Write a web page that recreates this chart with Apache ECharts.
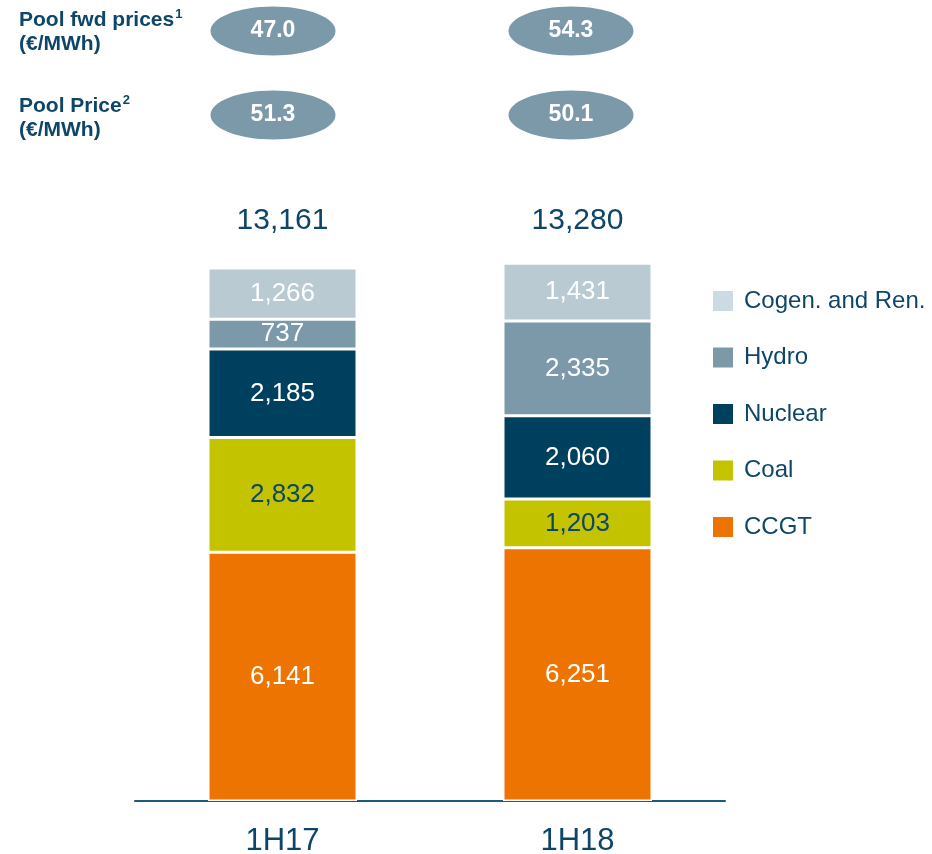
<!DOCTYPE html>
<html>
<head>
<meta charset="utf-8">
<script src="https://cdn.jsdelivr.net/npm/echarts@6/dist/echarts.min.js"></script>
<style>
  html, body { margin: 0; padding: 0; background: #fff; }
  #chart { width: 932px; height: 854px; }
</style>
</head>
<body>
<div id="chart"></div>
<script>
// data
const periods = ["1H17", "1H18"];
const ccgt = [6141, 6251];
const coal = [2832, 1203];
const nuclear = [2185, 2060];
const hydro = [737, 2335];
const cogen = [1266, 1431];
const totals = [13161, 13280];
const fwdPrices = [47.0, 54.3];
const poolPrices = [51.3, 50.1];

const dark = "#0D4669";
const font = "Liberation Sans, Arial, sans-serif";
const totalRow = 14000; // totals sit on one line at the top of the grid

const chart = echarts.init(document.getElementById("chart"));

const fmt = (v) => v.toLocaleString("en-US");

// one stacked bar series
const barSeries = (name, data, color, labelColor) => ({
  name: name,
  type: "bar",
  stack: "gen",
  barWidth: 149,
  data: data,
  itemStyle: { color: color, borderColor: "#fff", borderWidth: 1.5 },
  label: {
    show: true,
    position: "inside",
    color: labelColor,
    fontSize: 26,
    fontFamily: font,
    formatter: (p) => fmt(p.value),
  },
});

// ellipse + number for the price rows
const bubbles = [];
const bubbleX = [273, 571];
[[fwdPrices, 31], [poolPrices, 115]].forEach(([vals, cy]) => {
  vals.forEach((v, i) => {
    bubbles.push({
      type: "ellipse",
      shape: { cx: bubbleX[i], cy: cy, rx: 62.5, ry: 24.5 },
      style: { fill: "#7C99AA" },
    });
    bubbles.push({
      type: "text",
      x: bubbleX[i],
      y: cy,
      style: {
        text: v.toFixed(1),
        fill: "#fff",
        font: "bold 23px " + font,
        textAlign: "center",
        textVerticalAlign: "middle",
        align: "center",
        verticalAlign: "middle",
      },
    });
  });
});

// row titles with superscripts
const rowTitle = (main, sup, y) => ({
  type: "text",
  left: 19,
  top: y,
  style: {
    text: "{a|" + main + "}{s|" + sup + "}\n{a|(€/MWh)}",
    rich: {
      a: { fontSize: 21, fontWeight: "bold", fill: dark, fontFamily: font, lineHeight: 24 },
      s: { fontSize: 13, fontWeight: "bold", fill: dark, fontFamily: font, lineHeight: 24, verticalAlign: "top", padding: [0, 0, 8, 1] },
    },
  },
});

chart.setOption({
  animation: false,
  textStyle: { fontFamily: font },
  grid: { left: 135, width: 590, top: 234, bottom: 53, outerBoundsMode: "none", containLabel: false },
  legend: {
    orient: "vertical",
    left: 711,
    top: 289,
    padding: 0,
    itemWidth: 22,
    itemHeight: 22,
    itemGap: 32.5,
    icon: "rect",
    textStyle: { color: dark, fontSize: 24, fontFamily: font, padding: [0, 0, 0, 5] },
    data: [
      { name: "Cogen. and Ren.", itemStyle: { color: "#CBDAE3" } },
      { name: "Hydro" },
      { name: "Nuclear" },
      { name: "Coal" },
      { name: "CCGT" },
    ],
  },
  xAxis: {
    type: "category",
    data: periods,
    axisLine: { lineStyle: { color: "#1E5A7E", width: 2 } },
    axisTick: { show: false },
    axisLabel: { color: dark, fontSize: 31, margin: 25, fontFamily: font },
  },
  yAxis: {
    type: "value",
    min: 0,
    max: 14000,
    show: false,
    splitLine: { show: false },
  },
  graphic: [
    rowTitle("Pool fwd prices", "1", 8),
    rowTitle("Pool Price", "2", 94),
  ].concat(bubbles),
  series: [
    barSeries("CCGT", ccgt, "#EE7402", "#fff"),
    barSeries("Coal", coal, "#C3C300", dark),
    barSeries("Nuclear", nuclear, "#00405F", "#fff"),
    barSeries("Hydro", hydro, "#7C99AA", "#fff"),
    barSeries("Cogen. and Ren.", cogen, "#B9CAD2", "#fff"),
    {
      name: "total",
      type: "scatter",
      symbolSize: 0,
      itemStyle: { opacity: 1 },
      data: totals.map((t, i) => [i, totalRow, t]),
      label: {
        show: true,
        position: "inside",
        offset: [0, -13],
        color: dark,
        fontSize: 30,
        fontFamily: font,
        formatter: (p) => fmt(p.value[2]),
      },
      emphasis: { disabled: true },
      tooltip: { show: false },
    },
  ],
});
</script>
</body>
</html>
